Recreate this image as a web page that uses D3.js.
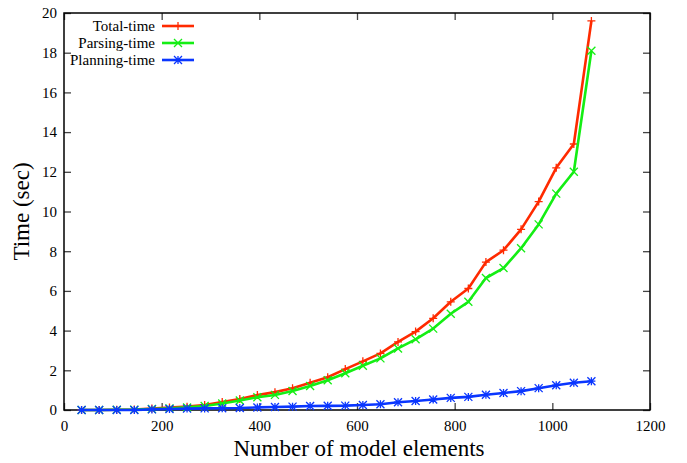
<!DOCTYPE html>
<html>
<head>
<meta charset="utf-8">
<script src="https://cdn.jsdelivr.net/npm/d3@7"></script>
<style>
  body { margin: 0; background: #fff; }
  svg { display: block; }
  text { font-family: "Liberation Serif", "DejaVu Serif", serif; fill: #000; }
</style>
</head>
<body>
<div class="chart"></div>
<script>
const elements = [36, 72, 108, 144, 180, 216, 252, 288, 324, 360, 396, 432, 468, 504, 540,
    576, 612, 648, 684, 720, 756, 792, 828, 864, 900, 936, 972, 1008, 1044, 1080];
const totalTime = [0, 0, 0.01, 0.02, 0.07, 0.12, 0.17, 0.25, 0.4, 0.55, 0.75, 0.9, 1.1, 1.37, 1.65,
    2.06, 2.45, 2.85, 3.43, 3.95, 4.62, 5.45, 6.12, 7.45, 8.05, 9.1, 10.5, 12.2, 13.4, 19.6];
const parsingTime = [0, 0, 0.01, 0.02, 0.05, 0.08, 0.13, 0.2, 0.33, 0.48, 0.64, 0.76, 0.96, 1.21, 1.5,
    1.85, 2.23, 2.6, 3.1, 3.56, 4.1, 4.85, 5.45, 6.65, 7.15, 8.15, 9.35, 10.9, 12.0, 18.1];
const planningTime = [0, 0, 0, 0, 0.03, 0.05, 0.07, 0.08, 0.09, 0.1, 0.13, 0.15, 0.17, 0.2, 0.21,
    0.22, 0.25, 0.29, 0.39, 0.45, 0.53, 0.61, 0.66, 0.77, 0.86, 0.95, 1.1, 1.25, 1.37, 1.45];
const xTicks = [0, 200, 400, 600, 800, 1000, 1200];
const yTicks = [0, 2, 4, 6, 8, 10, 12, 14, 16, 18, 20];

const series = [
    { name: 'Total-time', values: totalTime, color: '#ff2a00', marker: 'plus' },
    { name: 'Parsing-time', values: parsingTime, color: '#14ee14', marker: 'cross' },
    { name: 'Planning-time', values: planningTime, color: '#0a36ff', marker: 'star' }
];

const width = 687, height = 463;
const plot = { left: 64, right: 650, top: 13, bottom: 410 };
const serif = '"Liberation Serif", "DejaVu Serif", serif';
const svg = d3.select('div.chart').append('svg').attr('width', width).attr('height', height);

const x = d3.scaleLinear().domain([0, 1200]).range([plot.left, plot.right]);
const y = d3.scaleLinear().domain([0, 20]).range([plot.bottom, plot.top]);
const tickLen = 7;
const tickColor = '#444';

const styleAxis = g => {
    g.attr('font-family', serif).attr('font-size', 15);
    g.select('.domain').remove();
    g.selectAll('line').attr('stroke', tickColor).attr('stroke-width', 1.3);
    g.selectAll('text').attr('fill', '#000');
};

// ticks, mirrored on all four sides
const xBottom = d3.axisBottom(x).tickValues(xTicks).tickFormat(d3.format('d'))
    .tickSizeInner(-tickLen).tickSizeOuter(0).tickPadding(10);
svg.append('g').attr('transform', `translate(0,${plot.bottom})`).call(xBottom).call(styleAxis);
const xTop = d3.axisTop(x).tickValues(xTicks).tickFormat('').tickSizeInner(-tickLen).tickSizeOuter(0);
svg.append('g').attr('transform', `translate(0,${plot.top})`).call(xTop).call(styleAxis);

const yLeft = d3.axisLeft(y).tickValues(yTicks).tickFormat(d3.format('d'))
    .tickSizeInner(-tickLen).tickSizeOuter(0).tickPadding(7);
svg.append('g').attr('transform', `translate(${plot.left},0)`).call(yLeft).call(styleAxis);
const yRight = d3.axisRight(y).tickValues(yTicks).tickFormat('').tickSizeInner(-tickLen).tickSizeOuter(0);
svg.append('g').attr('transform', `translate(${plot.right},0)`).call(yRight).call(styleAxis);

// frame
svg.append('rect')
    .attr('x', plot.left).attr('y', plot.top)
    .attr('width', plot.right - plot.left).attr('height', plot.bottom - plot.top)
    .attr('fill', 'none').attr('stroke', '#000').attr('stroke-width', 1.5);

const markerPath = (type, s) => {
    const plus = `M${-s},0H${s}M0,${-s}V${s}`;
    const cross = `M${-s},${-s}L${s},${s}M${-s},${s}L${s},${-s}`;
    if (type === 'plus') return plus;
    if (type === 'cross') return cross;
    return plus + cross;
};

const line = d3.line().x(d => x(d[0])).y(d => y(d[1]));
const lines = svg.append('g').attr('class', 'lines');
series.forEach(s => {
    const pts = elements.map((e, i) => [e, s.values[i]]);
    lines.append('path')
        .datum(pts)
        .attr('d', line)
        .attr('fill', 'none')
        .attr('stroke', s.color)
        .attr('stroke-width', 2.6)
        .attr('stroke-linejoin', 'round');
    lines.selectAll(null)
        .data(pts)
        .enter()
        .append('path')
        .attr('transform', d => `translate(${x(d[0])},${y(d[1])})`)
        .attr('d', markerPath(s.marker, 4))
        .attr('stroke', s.color)
        .attr('stroke-width', 1.3)
        .attr('fill', 'none');
});

// legend
const legend = svg.append('g').attr('class', 'legend');
series.forEach((s, i) => {
    const ly = 26 + i * 17;
    legend.append('text')
        .attr('x', 155).attr('y', ly)
        .attr('dy', '0.35em')
        .attr('text-anchor', 'end')
        .attr('font-size', 15)
        .text(s.name);
    legend.append('line')
        .attr('x1', 162).attr('x2', 194).attr('y1', ly).attr('y2', ly)
        .attr('stroke', s.color).attr('stroke-width', 2.6);
    legend.append('path')
        .attr('transform', `translate(178,${ly})`)
        .attr('d', markerPath(s.marker, 4))
        .attr('stroke', s.color).attr('stroke-width', 1.3);
});

// axis titles
svg.append('text')
    .attr('x', (plot.left + plot.right) / 2 + 2).attr('y', 456)
    .attr('text-anchor', 'middle')
    .attr('font-size', 23)
    .text('Number of model elements');
svg.append('text')
    .attr('transform', `translate(29,${(plot.top + plot.bottom) / 2}) rotate(-90)`)
    .attr('text-anchor', 'middle')
    .attr('font-size', 23)
    .text('Time (sec)');
</script>
</body>
</html>
